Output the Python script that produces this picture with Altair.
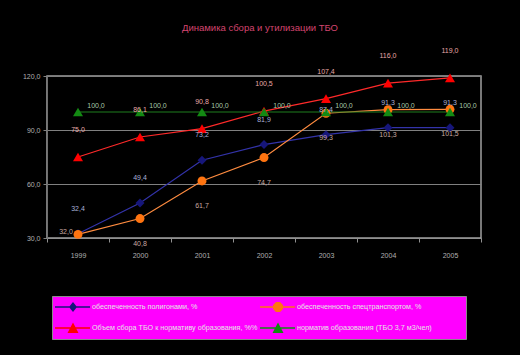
import altair as alt
import pandas as pd

years = ["1999", "2000", "2001", "2002", "2003", "2004", "2005"]
s_polygons = [32.4, 49.4, 73.2, 81.9, 87.4, 91.3, 91.3]
s_transport = [32.0, 40.8, 61.7, 74.7, 99.3, 101.3, 101.5]
s_collection = [75.0, 86.1, 90.8, 100.5, 107.4, 116.0, 119.0]
s_norm = [100.0, 100.0, 100.0, 100.0, 100.0, 100.0, 100.0]

names = [
    "обеспеченность полигонами, %",
    "обеспеченность спецтранспортом, %",
    "Объем сбора ТБО к нормативу образования, %%",
    "норматив образования (ТБО 3,7 м3/чел)",
]
values = [s_polygons, s_transport, s_collection, s_norm]

rows = []
for name, vals in zip(names, values):
    for y, v in zip(years, vals):
        rows.append({"year": y, "series": name, "value": v})
df = pd.DataFrame(rows)

FONT = "Liberation Sans"

style = {
    names[0]: dict(line="#3333aa", mark="#16167a", shape="diamond", size=80, lab="#aab2d8", dx=0, dy=-25),
    names[1]: dict(line="#ff8c40", mark="#ff7410", shape="circle", size=80, lab="#c8aaa0", dx=0, dy=25),
    names[2]: dict(line="#ff2a2a", mark="#ff0000", shape="triangle-up", size=100, lab="#e8a8a8", dx=0, dy=-27),
    names[3]: dict(line="#1f7f1f", mark="#138a13", shape="triangle-up", size=100, lab="#a8c8a8", dx=18, dy=-6),
}

# legend symbols: a line with the series marker on it (unit = 5 px)
LINE = "M-1.6,-0.15L5.4,-0.15L5.4,0.15L-1.6,0.15Z"
legend_paths = {
    names[0]: LINE + "M2,-1L2.8,0L2,1L1.2,0Z",
    names[1]: LINE + "M1.6,-1L2.4,-1L3,-0.4L3,0.4L2.4,1L1.6,1L1,0.4L1,-0.4Z",
    names[2]: LINE + "M2,-1.1L3.1,1L0.9,1Z",
    names[3]: LINE + "M2,-1.1L3.1,1L0.9,1Z",
}
legend_order = [names[0], names[2], names[1], names[3]]

x_enc = alt.X(
    "year:O",
    scale=alt.Scale(type="band", paddingInner=0, paddingOuter=0),
    axis=alt.Axis(
        title=None, labelAngle=0, labelFontSize=7, labelColor="#b0b0b0", labelFont=FONT,
        tickBand="extent", tickSize=4, tickColor="#909090", domainColor="#909090",
        labelPadding=9, grid=False,
    ),
)
y_enc = alt.Y(
    "value:Q",
    scale=alt.Scale(domain=[30, 120], nice=False, zero=False),
    axis=alt.Axis(
        title=None, values=[30, 60, 90, 120], labelFontSize=7, labelColor="#b0b0b0",
        labelFont=FONT, labelExpr="replace(format(datum.value, '.1f'), '.', ',')",
        tickSize=4, tickColor="#808080", domainColor="#707070", gridColor="#808080",
        gridWidth=1, labelPadding=3,
    ),
)

base = alt.Chart(df).encode(x=x_enc, y=y_enc)
fmt = "replace(format(datum.value, '.1f'), '.', ',')"

layers = []
for name in names:
    st = style[name]
    sub = base.transform_filter(alt.datum.series == name)
    layers.append(sub.mark_line(color=st["line"], strokeWidth=1.2))
for name in names:
    st = style[name]
    sub = base.transform_filter(alt.datum.series == name)
    layers.append(
        sub.mark_point(filled=True, opacity=1, shape=st["shape"], size=st["size"], color=st["mark"])
    )
for name in names:
    st = style[name]
    if name == names[1]:
        sub = base.transform_filter((alt.datum.series == name) & (alt.datum.year != "1999"))
        first = base.transform_filter((alt.datum.series == name) & (alt.datum.year == "1999"))
        layers.append(
            first.transform_calculate(label=fmt)
            .mark_text(fontSize=7, font=FONT, color=st["lab"], dx=-12, dy=-2)
            .encode(text="label:N")
        )
    else:
        sub = base.transform_filter(alt.datum.series == name)
    layers.append(
        sub.transform_calculate(label=fmt)
        .mark_text(fontSize=7, font=FONT, color=st["lab"], dx=st["dx"], dy=st["dy"])
        .encode(text="label:N")
    )

leg = alt.Legend(
    title="\u00a0", titleOrient="right", titlePadding=28, titleFontSize=7,
    orient="none", legendX=5, legendY=220, columns=2, gridAlign="all",
    fillColor="#ff00ff", strokeColor="#8a8a8a", padding=6, labelFontSize=7.2,
    labelColor="#e6e6e6", labelFont=FONT, labelLimit=400, symbolSize=100,
    rowPadding=10, columnPadding=2, labelOffset=24, symbolStrokeWidth=0,
)
legend_layer = base.transform_filter("datum.value < 0").mark_point(filled=True, opacity=1).encode(
    color=alt.Color(
        "series:N",
        scale=alt.Scale(domain=legend_order, range=[style[n]["mark"] for n in legend_order]),
        legend=leg,
    ),
    shape=alt.Shape(
        "series:N",
        scale=alt.Scale(domain=legend_order, range=[legend_paths[n] for n in legend_order]),
        legend=leg,
    ),
)
layers.append(legend_layer)

chart = alt.layer(*layers).properties(
    width=434,
    height=162,
    title=alt.TitleParams(
        "Динамика сбора и утилизации ТБО", fontSize=9.5, font=FONT, color="#d4456f",
        fontWeight="normal", anchor="middle", frame="group", offset=14, dx=-4,
    ),
    autosize=alt.AutoSizeParams(type="none"),
    padding={"left": 47, "top": 76, "right": 39, "bottom": 117},
    background="#000000",
).configure_view(stroke="#a0a0a0", strokeWidth=1.5)

chart.save("out.html", embed_options={"renderer": "svg", "actions": False})
